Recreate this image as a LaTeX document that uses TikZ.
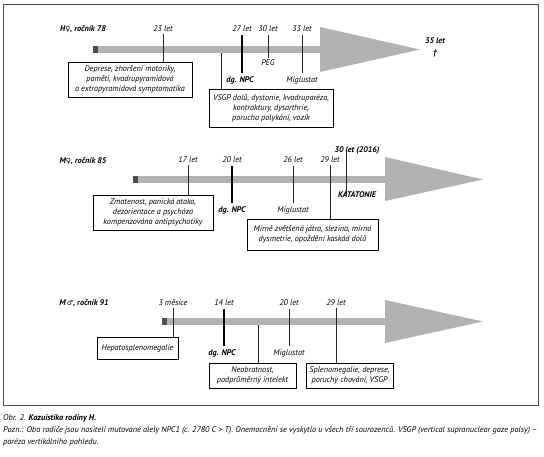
\documentclass[tikz,border=0pt]{standalone}
\usepackage{fontspec}
\setmainfont{PT Sans}
\newfontfamily\symf{DejaVu Sans}
\usetikzlibrary{calc}
\tikzset{
  every node/.style={font=\fontsize{8.2}{10}\selectfont\itshape, inner sep=0pt},
  boldlbl/.style={font=\fontsize{8.2}{10}\selectfont\itshape\bfseries},
  evbox/.style={draw=black, line width=0.7pt, align=center, inner sep=1pt, fill=white},
  tickline/.style={draw=black!85, line width=0.7pt},
  dgline/.style={draw=black, line width=2pt},
  barbody/.style={fill=black!30, draw=none},
  barstart/.style={fill=black!70, draw=none},
  capt/.style={anchor=west, font=\fontsize{8.3}{10}\selectfont\itshape},
}
\begin{document}
\begin{tikzpicture}[x=1pt,y=-1pt]
\useasboundingbox (0,0) rectangle (544,456);
\draw[black!70, line width=0.9pt] (3,4) rectangle (538,405);

% ---------- timeline 1 ----------
\fill[barbody] (98,46) rectangle (321,53);
\fill[barbody] (320,27) -- (420,49.5) -- (320,72) -- cycle;
\fill[barstart] (93,46) rectangle (98,53);
\node[boldlbl] (t1) at (83,29) {H{\symf\fontsize{7}{8}\selectfont ♀}, ročník 78};
\node (l23) at (163,29) {23 let};
\node[evbox, minimum width=124pt, minimum height=35pt] (b1) at (130,79.5)
  {Deprese, zhoršení motoriky,\\paměti, kvadrupyramidová\\a extrapyramidová symptomatika};
\draw[tickline] ([yshift=-2pt]l23.south) -- (l23.south |- b1.north);
\node (l27) at (242,29) {27 let};
\node[boldlbl] (dg1) at (240,80) {dg. NPC};
\draw[dgline] ([yshift=-3pt]l27.south) -- ($(l27.south |- dg1.north)+(0,-3)$);
\coordinate (c1) at (221,53);
\node[evbox, minimum width=124pt, minimum height=38pt] (b2) at (271,108)
  {VSGP dolů, dystonie, kvadruparéza,\\kontraktury, dysarthrie,\\porucha polykání, vozík};
\draw[tickline] (c1) -- (c1 |- b2.north);
\node (l30) at (268,29) {30 let};
\node (peg) at (268,63) {PEG};
\draw[tickline] ([yshift=-3pt]l30.south) -- ([yshift=2pt]peg.north);
\node (l33) at (302,29) {33 let};
\node (mig1) at (302,80) {Miglustat};
\draw[tickline] ([yshift=-3pt]l33.south) -- ([yshift=3pt]mig1.north);
\node[boldlbl] (l35) at (435,41) {35 let};
\node[boldlbl] (dag) at (435,53) {†};

% ---------- timeline 2 ----------
\fill[barbody] (138,176) rectangle (386,183);
\fill[barbody] (385,157) -- (483,179.5) -- (385,201) -- cycle;
\fill[barstart] (133,176) rectangle (138,183);
\node[boldlbl] (t2) at (83,161) {M{\symf\fontsize{7}{8}\selectfont ♀}, ročník 85};
\node (l17) at (188,160) {17 let};
\node[evbox, minimum width=120pt, minimum height=35pt] (b3) at (153,212.5)
  {Zmatenost, panická ataka,\\dezorientace a psychóza\\kompenzována antipsychotiky};
\draw[tickline] ([yshift=-2pt]l17.south) -- (l17.south |- b3.north);
\node (l20) at (232,160) {20 let};
\node[boldlbl] (dg2) at (232,210) {dg. NPC};
\draw[dgline] ([yshift=-3pt]l20.south) -- ($(dg2.north)+(0,-3)$);
\node (l26) at (293,160) {26 let};
\node (mig2) at (293,210) {Miglustat};
\draw[tickline] ([yshift=-3pt]l26.south) -- ([yshift=3pt]mig2.north);
\node (l29) at (330,160) {29 let};
\node[evbox, minimum width=131pt, minimum height=31pt] (b4) at (312.5,234.5)
  {Mírně zvětšená játra, slezina, mírná\\dysmetrie, opoždění kaskád dolů};
\draw[tickline] ([yshift=-2pt]l29.south) -- (l29.south |- b4.north);
\node[boldlbl] (l30b) at (357,150) {30 let (2016)};
\node[boldlbl] (kat) at (357,195) {KATATONIE};
\draw[tickline] ($(l30b.south)+(-11,-3)$) -- ($(kat.north)+(-11,4)$);

% ---------- timeline 3 ----------
\fill[barbody] (167,318) rectangle (386,325);
\fill[barbody] (385,300) -- (483,321.5) -- (385,343) -- cycle;
\fill[barstart] (162,318) rectangle (167,325);
\node[boldlbl] (t3) at (84,303) {M\,{\symf\fontsize{7}{8}\selectfont ♂}, ročník 91};
\node (l3m) at (173,303) {3 měsíce};
\node[evbox, minimum width=81pt, minimum height=22pt] (b5) at (137.5,348)
  {Hepatosplenomegalie};
\draw[tickline] ([yshift=-2pt]l3m.south) -- (l3m.south |- b5.north);
\node (l14) at (224,303) {14 let};
\node[boldlbl] (dg3) at (222,353) {dg. NPC};
\draw[dgline] ([yshift=-3pt]l14.south) -- ($(l14.south |- dg3.north)+(0,-3)$);
\coordinate (c3) at (258,325);
\node[evbox, minimum width=87pt, minimum height=25pt] (b6) at (252.5,375.5)
  {Neobratnost,\\podprůměrný intelekt};
\draw[tickline] (c3) -- (c3 |- b6.north);
\node (l20c) at (289,303) {20 let};
\node (mig3) at (289,353) {Miglustat};
\draw[tickline] ([yshift=-3pt]l20c.south) -- ([yshift=3pt]mig3.north);
\node (l29c) at (336,303) {29 let};
\node[evbox, minimum width=87pt, minimum height=25pt] (b7) at (349.5,375.5)
  {Splenomegalie, deprese,\\poruchy chování, VSGP};
\draw[tickline] ([yshift=-2pt]l29c.south) -- (l29c.south |- b7.north);

% ---------- caption ----------
\node[capt] (cap1) at (3,418) {Obr. 2. \textbf{Kazuistika rodiny H.}};
\node[capt] (cap2) at (3,430) {Pozn.: Oba rodiče jsou nositeli mutované alely NPC1 (c. 2780 C > T). Onemocnění se vyskytlo u všech tří sourozenců. VSGP (vertical supranuclear gaze palsy) –};
\node[capt] (cap3) at (3,442) {paréza vertikálního pohledu.};
\end{tikzpicture}
\end{document}
